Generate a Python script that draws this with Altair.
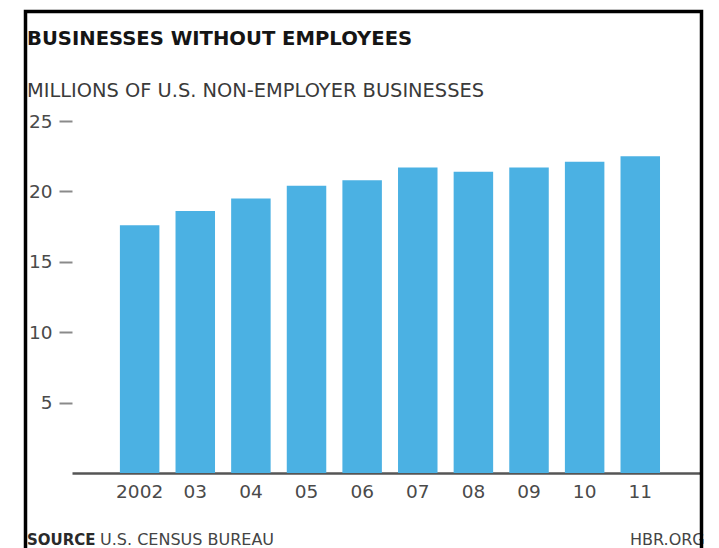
import altair as alt
import pandas as pd

years = ["2002", "03", "04", "05", "06", "07", "08", "09", "10", "11"]
values = [17.6, 18.6, 19.5, 20.4, 20.8, 21.7, 21.4, 21.7, 22.1, 22.5]
y_ticks = [5, 10, 15, 20, 25]

title_text = "BUSINESSES WITHOUT EMPLOYEES"
subtitle_text = "MILLIONS OF U.S. NON-EMPLOYER BUSINESSES"
source_bold = "SOURCE"
source_text = "U.S. CENSUS BUREAU"
credit_text = "HBR.ORG"

df = pd.DataFrame({"year": years, "value": values})
one = pd.DataFrame({"k": [0]})

FONT = "DejaVu Sans"
W, H = 628, 352

bars = alt.Chart(df).mark_bar(color="#4BB1E3").encode(
    x=alt.X("year:N", sort=years,
            scale=alt.Scale(paddingInner=0.29, paddingOuter=0.79, align=0.545),
            axis=alt.Axis(title=None, ticks=False, labelAngle=0, labelPadding=9,
                          labelFont=FONT, labelFontSize=18.5, labelColor="#4a4a4a",
                          domainColor="#555555", domainWidth=2.5)),
    y=alt.Y("value:Q", scale=alt.Scale(domain=[0, 25], nice=False),
            axis=alt.Axis(title=None, values=y_ticks, grid=False, domain=False,
                          tickSize=13, tickWidth=2, tickColor="#8a8a8a",
                          labelPadding=7, labelFont=FONT, labelFontSize=18.5,
                          labelColor="#4a4a4a")),
)

def txt(text, x, y, size, weight="normal", color="#333333", align="left"):
    return alt.Chart(one).mark_text(
        text=text, align=align, baseline="alphabetic", font=FONT,
        fontSize=size, fontWeight=weight, color=color,
    ).encode(x=alt.value(x), y=alt.value(y))

title = txt(title_text, -45, 45 - 121, 19.6, "bold", "#151515")
subtitle = txt(subtitle_text, -45, 97 - 121, 19.4, "normal", "#3a3a3a")
src1 = txt(source_bold, -45, 545 - 121, 15, "bold", "#2a2a2a")
src2 = txt(source_text, 100 - 72, 545 - 121, 16, "normal", "#444444")
credit = txt(credit_text, 630 - 72, 545 - 121, 16, "normal", "#444444")

frame = alt.Chart(one).mark_rect(fill=None, stroke="#000000", strokeWidth=3.5).encode(
    x=alt.value(25.5 - 72), x2=alt.value(701.5 - 72),
    y=alt.value(11.5 - 121), y2=alt.value(700),
)

chart = alt.layer(bars, title, subtitle, src1, src2, credit, frame).properties(
    width=W, height=H,
    autosize=alt.AutoSizeParams(type="none"),
    padding={"left": 72, "top": 121, "right": 719 - 72 - W, "bottom": 548 - 121 - H},
    background="white",
).configure_view(stroke=None)

chart.save("out.html", embed_options={"renderer": "svg", "actions": False})
